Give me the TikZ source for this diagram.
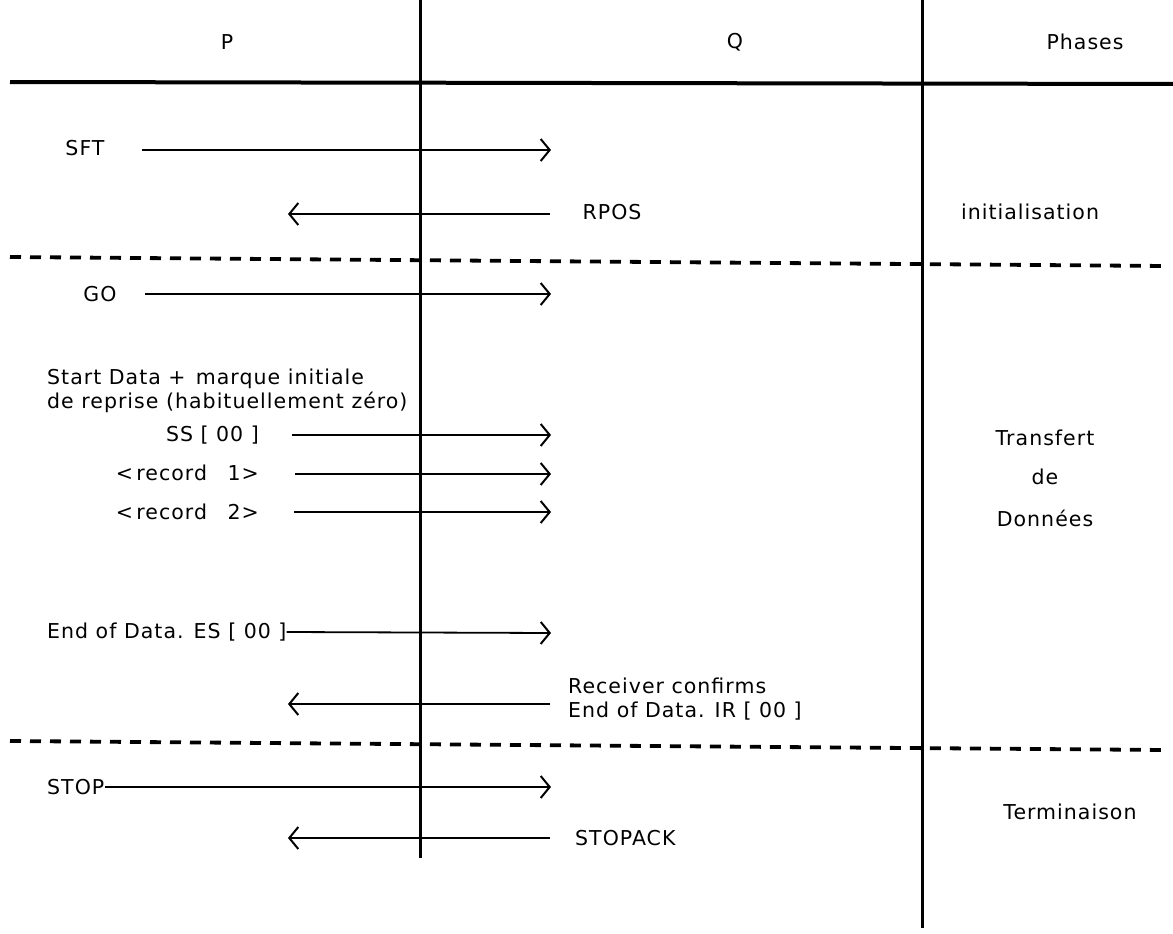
\documentclass[tikz,border=0pt]{standalone}
\usepackage{fontspec}
\setmainfont{DejaVu Sans}[LetterSpace=5]
\usetikzlibrary{arrows.meta}
\begin{document}
\begin{tikzpicture}[x=1pt,y=-1pt,
  lbl/.style={inner sep=0pt,font=\fontsize{20.5}{24}\selectfont},
  life/.style={line width=3pt},
  msg/.style={line width=1.8pt,-{Straight Barb[length=9pt,width=22pt,line width=2pt]}},
  sep/.style={line width=3.8pt,dash pattern=on 11pt off 9pt},
  rule/.style={line width=4pt}]
\useasboundingbox (0,0) rectangle (1173,934);
% headers
\node[lbl] (hP) at (227,42) {P};
\node[lbl] (hQ) at (735,42) {Q};
\node[lbl] (hPh) at (1085,42) {Phases};
% frame lines
\coordinate (r1) at (10,82); \coordinate (r2) at (1173,84);
\draw[rule] (r1) -- (r2);
\coordinate (v1t) at (420,0); \coordinate (v1b) at (420,858);
\coordinate (v2t) at (922,0); \coordinate (v2b) at (922,928);
\draw[life] (v1t) -- (v1b);
\draw[life] (v2t) -- (v2b);
\coordinate (d1a) at (10,257); \coordinate (d1b) at (1165,266);
\coordinate (d2a) at (10,741); \coordinate (d2b) at (1165,750);
\draw[sep] (d1a) -- (d1b);
\draw[sep] (d2a) -- (d2b);
% phases
\node[lbl] (ini) at (1030,212) {initialisation};
\node[lbl] (tr1) at (1045,438) {Transfert};
\node[lbl] (tr2) at (1045,477) {de};
\node[lbl] (tr3) at (1045,518) {Données};
\node[lbl] (ter) at (1070,812) {Terminaison};
% messages
\node[lbl] (sft) at (85,148) {SFT};
\coordinate (sftS) at (142,150); \coordinate (sftE) at (551,150);
\draw[msg] (sftS) -- (sftE);
\node[lbl] (rpos) at (612,212) {RPOS};
\coordinate (rposS) at (550,214); \coordinate (rposE) at (288,214);
\draw[msg] (rposS) -- (rposE);
\node[lbl] (go) at (100,294) {GO};
\coordinate (goS) at (145,294); \coordinate (goE) at (551,294);
\draw[msg] (goS) -- (goE);
\node[lbl,anchor=west,align=left] (sd) at (47,391) {Start Data +\enspace marque initiale\\de reprise (habituellement zéro)};
\node[lbl,anchor=east] (ss) at (259,435) {SS [ 00 ]};
\coordinate (ssS) at (292,435); \coordinate (ssE) at (551,435);
\draw[msg] (ssS) -- (ssE);
\node[lbl,anchor=east] (rec1) at (259,473) {<\,record\quad 1>};
\coordinate (rec1S) at (295,474); \coordinate (rec1E) at (551,474);
\draw[msg] (rec1S) -- (rec1E);
\node[lbl,anchor=east] (rec2) at (259,512) {<\,record\quad 2>};
\coordinate (rec2S) at (294,512); \coordinate (rec2E) at (551,512);
\draw[msg] (rec2S) -- (rec2E);
\node[lbl,anchor=west] (es) at (47,632) {End of Data. ES [ 00 ]};
\coordinate (esE) at (551,633);
\draw[msg] (es.east) -- (esE);
\node[lbl,anchor=west,align=left] (ir) at (568,699) {Receiver confirms\\End of Data. IR [ 00 ]};
\coordinate (irS) at (550,704); \coordinate (irE) at (288,704);
\draw[msg] (irS) -- (irE);
\node[lbl,anchor=west] (stop) at (47,787) {STOP};
\coordinate (stopE) at (551,787);
\draw[msg] (stop.east) -- (stopE);
\node[lbl,anchor=west] (sack) at (575,838) {STOPACK};
\coordinate (sackS) at (550,838); \coordinate (sackE) at (288,838);
\draw[msg] (sackS) -- (sackE);
\end{tikzpicture}
\end{document}
